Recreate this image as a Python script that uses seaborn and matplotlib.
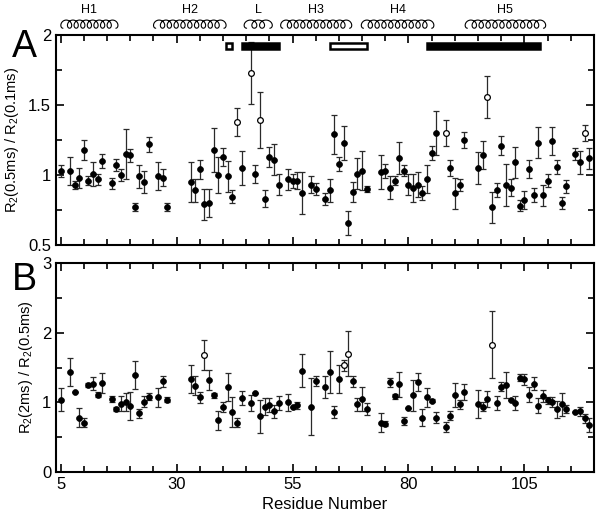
import matplotlib
matplotlib.use("Agg")
import matplotlib.pyplot as plt
from matplotlib.ticker import MultipleLocator, FuncFormatter
import numpy as np
import seaborn as sns

# panel A: R2(0.5ms) / R2(0.1ms), filled points
a_res = [5, 7, 8, 9, 10, 11, 12, 13, 14, 16, 17, 18, 19, 20, 21, 22, 23, 24, 26, 27, 28,
         33, 34, 35, 36, 37, 38, 39, 40, 41, 42, 44, 47, 49, 50, 51, 52, 54, 55, 56, 57,
         59, 60, 62, 63, 64, 65, 66, 67, 68, 69, 70, 71, 74, 75, 76, 77, 78, 79, 80, 81,
         82, 83, 84, 85, 86, 89, 90, 91, 92, 95, 96, 98, 99, 100, 101, 102, 103, 104, 105,
         106, 107, 108, 109, 110, 111, 112, 113, 114, 116, 117, 119]
a_val = [1.03, 1.03, 0.93, 0.98, 1.18, 0.96, 1.01, 0.97, 1.10, 0.94, 1.07, 1.00, 1.15, 1.14,
         0.77, 0.99, 0.95, 1.22, 0.99, 0.98, 0.77,
         0.95, 0.89, 1.04, 0.79, 0.80, 1.18, 1.00, 1.13, 0.99, 0.845, 1.05, 1.005, 0.83, 1.13,
         1.11, 0.93, 0.97, 0.96, 0.96, 0.87,
         0.93, 0.90, 0.83, 0.89, 1.29, 1.08, 1.23, 0.66, 0.88, 1.01, 1.03, 0.90, 1.02, 1.03,
         0.91, 0.96, 1.12, 1.03, 0.93, 0.91,
         0.93, 0.87, 0.97, 1.16, 1.30, 1.05, 0.87, 0.93, 1.25, 1.05, 1.145, 0.77, 0.895, 1.21,
         0.93, 0.91, 1.09, 0.78, 0.82,
         1.045, 0.86, 1.23, 0.855, 0.96, 1.24, 1.06, 0.80, 0.92, 1.15, 1.09, 1.12]
a_err = [0.045, 0.10, 0.03, 0.07, 0.07, 0.03, 0.085, 0.04, 0.05, 0.04, 0.045, 0.04, 0.18, 0.045,
         0.03, 0.08, 0.08, 0.055, 0.10, 0.06, 0.03,
         0.14, 0.085, 0.07, 0.11, 0.10, 0.155, 0.13, 0.065, 0.11, 0.045, 0.12, 0.065, 0.06, 0.07,
         0.11, 0.075, 0.075, 0.05, 0.06, 0.15,
         0.06, 0.045, 0.045, 0.08, 0.14, 0.05, 0.12, 0.085, 0.07, 0.11, 0.14, 0.02, 0.12, 0.05,
         0.08, 0.03, 0.115, 0.04, 0.075, 0.10,
         0.09, 0.05, 0.10, 0.05, 0.16, 0.06, 0.11, 0.045, 0.06, 0.115, 0.10, 0.11, 0.05, 0.07,
         0.15, 0.06, 0.11, 0.04, 0.065,
         0.065, 0.05, 0.11, 0.075, 0.045, 0.10, 0.05, 0.045, 0.045, 0.04, 0.085, 0.075]
# panel A, open points
a_open_res = [43, 46, 48, 88, 97, 118]
a_open_val = [1.38, 1.73, 1.39, 1.30, 1.555, 1.30]
a_open_err = [0.10, 0.22, 0.20, 0.095, 0.15, 0.06]

# panel B: R2(2ms) / R2(0.5ms), filled points
b_res = [5, 7, 8, 9, 10, 11, 12, 13, 14, 16, 17, 18, 19, 20, 21, 22, 23, 24, 26, 27, 28,
         33, 34, 35, 37, 38, 39, 40, 41, 42, 43, 44, 46, 47, 48, 49, 50, 51, 52, 54, 55, 56,
         57, 59, 60, 62, 63, 64, 65, 68, 69, 70, 71, 74, 75, 76, 77, 78, 79, 80, 81, 82, 83,
         84, 85, 86, 88, 89, 90, 91, 92, 95, 96, 97, 99, 100, 101, 102, 103, 104, 105, 106,
         107, 108, 109, 110, 111, 112, 113, 114, 116, 117, 118, 119]
b_val = [1.04, 1.44, 1.15, 0.78, 0.71, 1.25, 1.27, 1.11, 1.28, 1.05, 0.905, 0.98, 1.00, 0.95,
         1.39, 0.84, 1.01, 1.08, 1.07, 1.30, 1.04,
         1.33, 1.24, 1.07, 1.32, 1.10, 0.74, 0.93, 1.225, 0.86, 0.71, 1.06, 0.99, 1.13, 0.80,
         0.94, 0.96, 0.87, 0.99, 1.00, 0.94, 0.96,
         1.455, 0.94, 1.31, 1.22, 1.44, 0.86, 1.335, 1.30, 0.97, 1.05, 0.905, 0.71, 0.69, 1.29,
         1.09, 1.26, 0.73, 0.915, 1.10, 1.29, 0.78,
         1.07, 1.025, 0.78, 0.65, 0.81, 1.11, 0.97, 1.15, 0.97, 0.94, 1.05, 0.99, 1.225, 1.25,
         1.03, 0.99, 1.355, 1.33, 1.11,
         1.27, 0.95, 1.09, 1.03, 1.01, 0.90, 0.97, 0.90, 0.86, 0.87, 0.77, 0.67]
b_err = [0.16, 0.20, 0.0, 0.14, 0.07, 0.03, 0.10, 0.04, 0.14, 0.04, 0.035, 0.11, 0.13, 0.20,
         0.20, 0.06, 0.08, 0.05, 0.13, 0.08, 0.04,
         0.20, 0.14, 0.08, 0.14, 0.04, 0.13, 0.07, 0.20, 0.22, 0.06, 0.10, 0.12, 0.0, 0.24,
         0.12, 0.10, 0.09, 0.10, 0.12, 0.0, 0.05,
         0.24, 0.41, 0.07, 0.16, 0.30, 0.09, 0.20, 0.08, 0.09, 0.17, 0.08, 0.13, 0.035, 0.065,
         0.035, 0.18, 0.06, 0.0, 0.22, 0.13, 0.12,
         0.13, 0.02, 0.08, 0.07, 0.06, 0.17, 0.07, 0.12, 0.20, 0.06, 0.11, 0.10, 0.06, 0.19,
         0.0, 0.10, 0.05, 0.08, 0.11,
         0.10, 0.11, 0.08, 0.05, 0.07, 0.12, 0.17, 0.06, 0.0, 0.06, 0.06, 0.10]
# panel B, open points
b_open_res = [36, 66, 67, 98]
b_open_val = [1.68, 1.53, 1.70, 1.83]
b_open_err = [0.22, 0.08, 0.32, 0.48]

# secondary structure
helix_names = ["H1", "H2", "L", "H3", "H4", "H5"]
helix_start = [5.5, 25.5, 45.1, 52.9, 70.3, 92.7]
helix_end = [16.9, 40.2, 50.1, 67.3, 85.0, 109.1]
helix_loops = [8, 10, 3, 10, 10, 11]

# boxes at top of panel A
box_start = [40.6, 44.0, 63.0, 84.0]
box_end = [42.0, 52.0, 71.0, 108.4]
box_filled = [False, True, False, True]

sns.set_style("ticks")
plt.rcParams["font.family"] = ["Liberation Sans", "DejaVu Sans"]
plt.rcParams["mathtext.fontset"] = "custom"
plt.rcParams["mathtext.rm"] = "Liberation Sans"
plt.rcParams["mathtext.it"] = "Liberation Sans:italic"
for k in ["axes.edgecolor", "text.color", "axes.labelcolor", "xtick.color", "ytick.color"]:
    plt.rcParams[k] = "black"

fig = plt.figure(figsize=(6.02, 5.15), dpi=100)
W, H = 602, 515
left, right = 56 / W, 594 / W
ax_a = fig.add_axes([left, 1 - 245 / H, right - left, 210 / H])
ax_b = fig.add_axes([left, 1 - 472 / H, right - left, 209 / H])
ax_h = fig.add_axes([left, 1 - 34 / H, right - left, 34 / H])


def draw_panel(ax, res, val, err, ores, oval, oerr):
    ax.errorbar(res, val, yerr=err, fmt="none", ecolor="#2a2a2a", elinewidth=0.9,
                capsize=2, capthick=0.9, zorder=2)
    ax.errorbar(ores, oval, yerr=oerr, fmt="none", ecolor="#2a2a2a", elinewidth=0.9,
                capsize=2, capthick=0.9, zorder=2)
    sns.scatterplot(x=res, y=val, ax=ax, color="black", edgecolor="black", s=18,
                    linewidth=0.5, zorder=3)
    sns.scatterplot(x=ores, y=oval, ax=ax, color="white", edgecolor="black", s=17,
                    linewidth=0.9, zorder=3)
    ax.set_xlim(4, 120)
    ax.xaxis.set_major_locator(MultipleLocator(25))
    ax.xaxis.set_minor_locator(MultipleLocator(5))
    ax.tick_params(which="both", direction="in", top=True, right=True, labelsize=12)
    ax.tick_params(which="major", length=6, width=1.2)
    ax.tick_params(which="minor", length=4, width=1.2)
    for s in ax.spines.values():
        s.set_linewidth(1.5)
    ax.yaxis.set_major_formatter(FuncFormatter(lambda v, p: f"{v:g}"))


draw_panel(ax_a, a_res, a_val, a_err, a_open_res, a_open_val, a_open_err)
ax_a.set_ylim(0.5, 2)
ax_a.yaxis.set_major_locator(MultipleLocator(0.5))
ax_a.yaxis.set_minor_locator(MultipleLocator(0.25))
ax_a.set_xticks([5, 30, 55, 80, 105])
ax_a.tick_params(labelbottom=False)
ax_a.set_ylabel(r"R$_2$(0.5ms) / R$_2$(0.1ms)", fontsize=10.5, labelpad=5)

for s0, s1, f in zip(box_start, box_end, box_filled):
    ax_a.barh(1.922, s1 - s0, left=s0, height=0.045,
              color="black" if f else "white", edgecolor="black", linewidth=1.8, zorder=4)

draw_panel(ax_b, b_res, b_val, b_err, b_open_res, b_open_val, b_open_err)
ax_b.set_ylim(0, 3)
ax_b.yaxis.set_major_locator(MultipleLocator(1))
ax_b.yaxis.set_minor_locator(MultipleLocator(0.5))
ax_b.set_xticks([5, 30, 55, 80, 105])
ax_b.set_ylabel(r"R$_2$(2ms) / R$_2$(0.5ms)", fontsize=10.5, labelpad=5)
ax_b.set_xlabel("Residue Number", fontsize=12)

fig.align_ylabels([ax_a, ax_b])

# helix cartoon
ax_h.set_xlim(4, 120)
ax_h.set_ylim(0, 1)
ax_h.axis("off")
for name, s0, s1, n in zip(helix_names, helix_start, helix_end, helix_loops):
    t = np.linspace(0, 2 * np.pi * n, 120 * n)
    w = (s1 - s0) / n
    x = s0 + w * t / (2 * np.pi) - 0.55 * w * np.sin(t)
    y = 0.29 - 0.12 * np.cos(t)
    ax_h.plot(x, y, color="black", lw=0.8)
    ax_h.text((s0 + s1) / 2, 0.7, name, ha="center", va="center", fontsize=9)

fig.text(24 / W, 1 - 47 / H, "A", fontsize=27, ha="center", va="center")
fig.text(24 / W, 1 - 280 / H, "B", fontsize=27, ha="center", va="center")

fig.savefig("out.png", dpi=100)
